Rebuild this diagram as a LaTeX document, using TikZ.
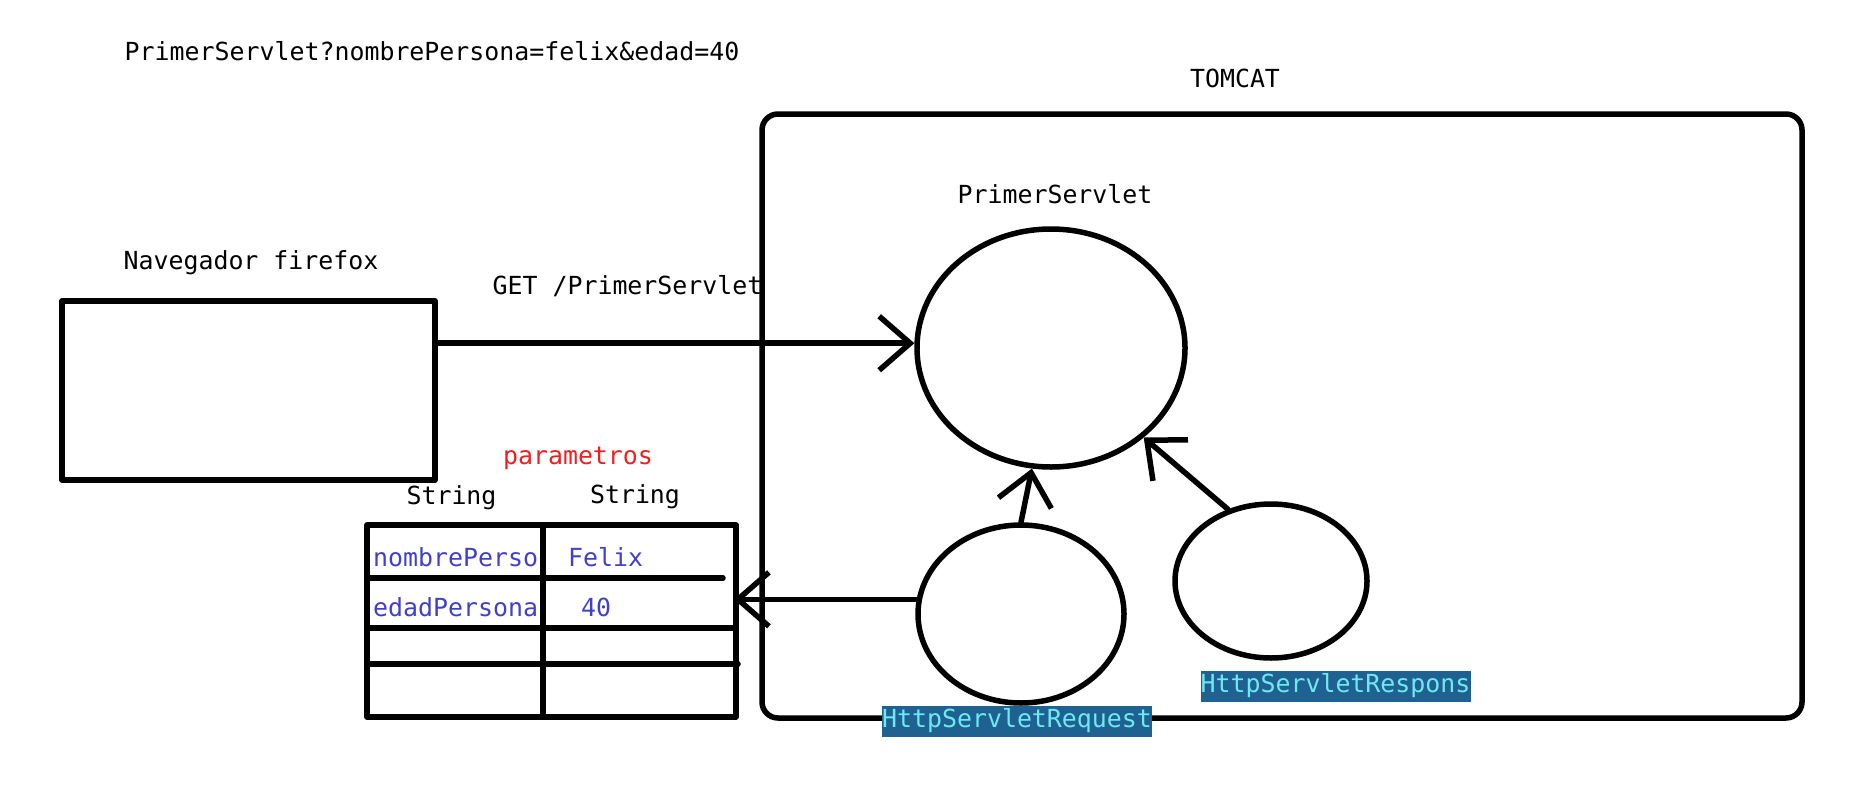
\documentclass[tikz,border=0pt]{standalone}
\usepackage{fontspec}
\setmonofont{DejaVu Sans Mono}
\usetikzlibrary{arrows.meta,shapes.geometric}
\definecolor{parblue}{RGB}{64,64,205}
\definecolor{parred}{RGB}{240,30,30}
\definecolor{hlbg}{RGB}{31,97,144}
\definecolor{hltxt}{RGB}{110,232,242}
\tikzset{
  txt/.style={font=\ttfamily\fontsize{24.9pt}{30pt}\selectfont, inner sep=0pt, text=black},
  thick line/.style={line width=5.5pt, line cap=round, line join=round},
  boxshape/.style={draw, thick line, rectangle, inner sep=0pt},
  ell/.style={draw, thick line, ellipse, inner sep=0pt},
  arr/.style={thick line, -{Straight Barb[length=31pt,width=54pt,line width=5.5pt]}},
  hl/.style={txt, fill=hlbg, text=hltxt, minimum width=270pt, minimum height=31pt},
  celltxt/.style={txt, text=parblue, anchor=west}
}
\begin{document}
\begin{tikzpicture}[x=1pt,y=-1pt]
\useasboundingbox[fill=white] (0,0) rectangle (1870,792);

% top URL
\node[txt] (url) at (432,51) {PrimerServlet?nombrePersona=felix\&edad=40};

% Tomcat container
\node[txt] (tomcatlbl) at (1235,78) {TOMCAT};
\node[boxshape, rounded corners=16pt, minimum width=1040pt, minimum height=604pt] (tomcat) at (1282,416) {};

% servlet
\node[txt] (servletlbl) at (1055,194) {PrimerServlet};
\node[ell, minimum width=268pt, minimum height=238pt] (servlet) at (1051,348) {};

% browser
\node[txt] (browserlbl) at (251,263) {Navegador firefox};
\node[boxshape, minimum width=373pt, minimum height=179pt] (browser) at (248.5,390.5) {};

\node[txt] (getlbl) at (627.5,286) {GET /PrimerServlet};

% request / response
\node[ell, minimum width=206pt, minimum height=178pt] (req) at (1021,614) {};
\node[ell, minimum width=192pt, minimum height=154pt] (resp) at (1271,581) {};
\node[hl] (reqlbl) at (1017,721) {HttpServletRequest};
\node[hl] (resplbl) at (1335.5,686) {HttpServletRespons};

% parameter table
\node[txt, text=parred] (parlbl) at (578,458) {parametros};
\node[txt] (str1) at (451.5,498) {String};
\node[txt] (str2) at (635,497) {String};
\node[boxshape, minimum width=369pt, minimum height=192pt] (table) at (551.5,621) {};
\draw[thick line] (543,525) -- (543,717);
\draw[thick line] (367,578) -- (723,578);
\draw[thick line] (367,628) -- (733,628);
\draw[thick line] (367,664) -- (738,664);
\node[celltxt] (k1) at (373,557) {nombrePerso};
\node[celltxt] (v1) at (568,557) {Felix};
\node[celltxt] (k2) at (373,607) {edadPersona};
\node[celltxt] (v2) at (581,607) {40};

% connectors
\draw[arr] (browser.east |- servlet.178) -- (servlet.178);
\draw[arr] (req.north) -- (servlet.261);
\draw[arr] (resp.121) -- (servlet.316);
\coordinate (tabin) at ([xshift=-5pt]req.172 -| table.east);
\draw[arr] (req.172) -- (tabin);
\end{tikzpicture}
\end{document}
